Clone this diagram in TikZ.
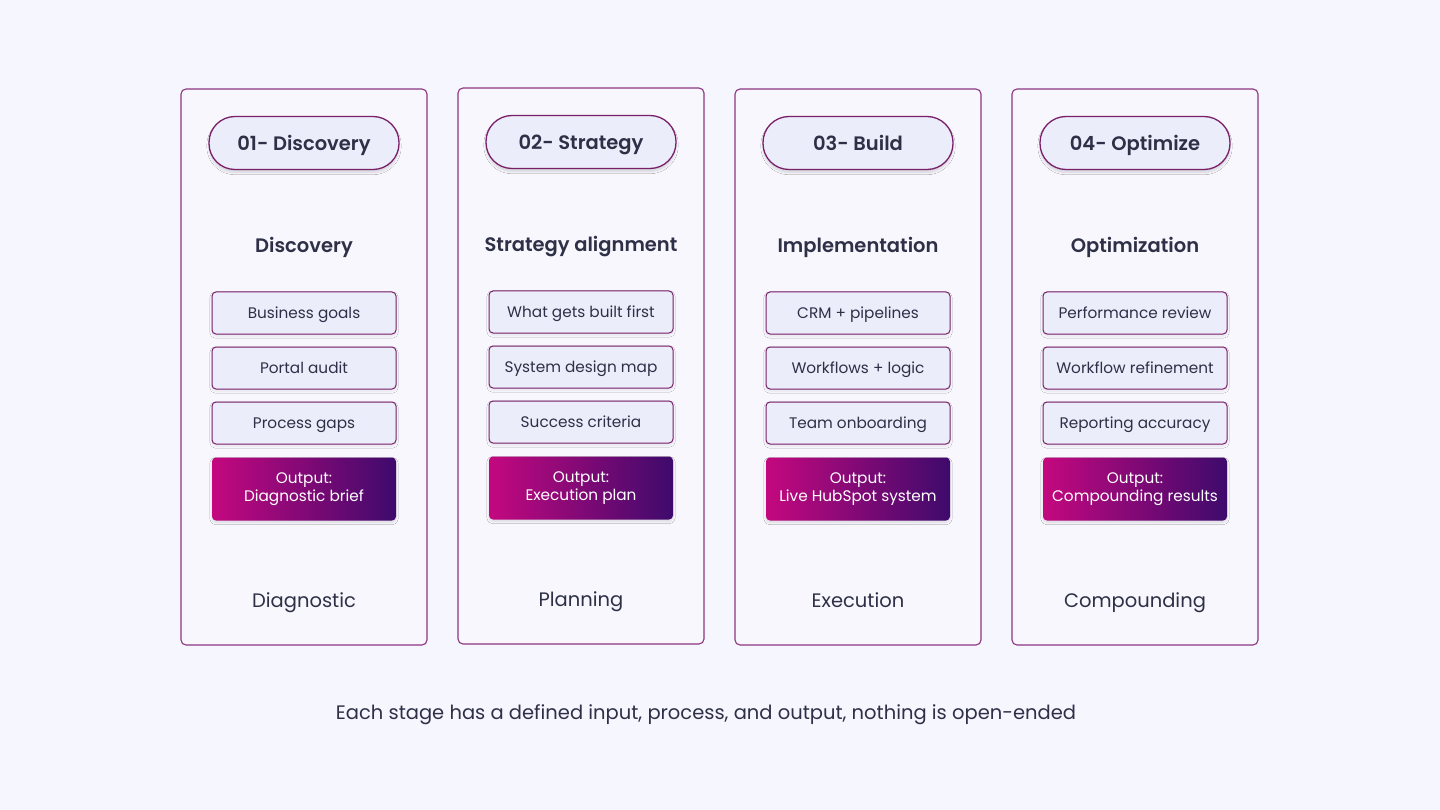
\documentclass[tikz,border=0pt]{standalone}
\usepackage{fontspec}
\setmainfont{Poppins}
\newfontfamily\semib{Poppins SemiBold}
\usetikzlibrary{shadows.blur}
\definecolor{bg}{HTML}{F5F6FE}
\definecolor{cardfill}{HTML}{F7F7FD}
\definecolor{cardline}{HTML}{8E3580}
\definecolor{pillfill}{HTML}{ECEDFA}
\definecolor{pillline}{HTML}{7A1F6A}
\definecolor{txt}{HTML}{2E3047}
\definecolor{gl}{HTML}{C4087F}
\definecolor{gr}{HTML}{3E0A6C}
\tikzset{
 card/.style={draw=cardline,line width=1.1pt,fill=cardfill,rounded corners=5pt,minimum width=246pt,minimum height=556pt,inner sep=0pt},
 pill/.style={draw=pillline,line width=1.3pt,fill=pillfill,rounded corners=26pt,minimum width=190pt,minimum height=53pt,blur shadow={shadow blur steps=8,shadow xshift=0pt,shadow yshift=-3pt,shadow opacity=15}},
 pilltxt/.style={anchor=base,text=txt,font=\fontsize{19.5}{22}\semib},
 ttl/.style={anchor=base,text=txt,font=\fontsize{19.5}{22}\semib},
 item/.style={draw=pillline,line width=1pt,fill=pillfill,rounded corners=4pt,minimum width=184pt,minimum height=42pt,blur shadow={shadow blur steps=6,shadow xshift=0pt,shadow yshift=-2pt,shadow opacity=8}},
 itemtxt/.style={anchor=base,text=txt,font=\fontsize{15.3}{18}\selectfont},
 outp/.style={rounded corners=4pt,minimum width=184pt,minimum height=63pt,left color=gl,right color=gr,text=white,align=center,font=\fontsize{15.3}{18}\selectfont,blur shadow={shadow blur steps=6,shadow xshift=0pt,shadow yshift=-2pt,shadow opacity=12}},
 foot/.style={anchor=base,text=txt,font=\fontsize{19.5}{22}\selectfont},
}
\begin{document}
\begin{tikzpicture}[x=1pt,y=-1pt]
\fill[bg] (0,0) rectangle (1440,810);
\useasboundingbox (0,0) rectangle (1440,810);
\foreach \i/\cx/\dy/\pl/\tl/\a/\b/\c/\o/\f in {
 1/304/0/01- Discovery/Discovery/Business goals/Portal audit/Process gaps/{Output:\\Diagnostic brief}/Diagnostic,
 2/581/-1/02- Strategy/Strategy alignment/What gets built first/System design map/Success criteria/{Output:\\Execution plan}/Planning,
 3/858/0/03- Build/Implementation/CRM + pipelines/Workflows + logic/Team onboarding/{Output:\\Live HubSpot system}/Execution,
 4/1135/0/04- Optimize/Optimization/Performance review/Workflow refinement/Reporting accuracy/{Output:\\Compounding results}/Compounding}{
 \node[card] (card\i) at (\cx,367+\dy) {};
 \node[pill] (pill\i) at (\cx,143+\dy) {};
 \node[pilltxt] (pt\i) at (\cx,151+\dy) {\pl};
 \node[ttl] (title\i) at (\cx,253+\dy) {\tl};
 \node[item] (a\i) at (\cx,313+\dy) {};
 \node[item] (b\i) at (\cx,368+\dy) {};
 \node[item] (c\i) at (\cx,423+\dy) {};
 \node[itemtxt] (at\i) at (\cx,318+\dy) {\a};
 \node[itemtxt] (bt\i) at (\cx,373+\dy) {\b};
 \node[itemtxt] (ct\i) at (\cx,428+\dy) {\c};
 \node[outp] (o\i) at (\cx,489+\dy) {\o};
 \node[foot] (f\i) at (\cx,607+\dy) {\f};
}
\node[foot] (note) at (706,719) {Each stage has a defined input, process, and output, nothing is open-ended};
\end{tikzpicture}
\end{document}
